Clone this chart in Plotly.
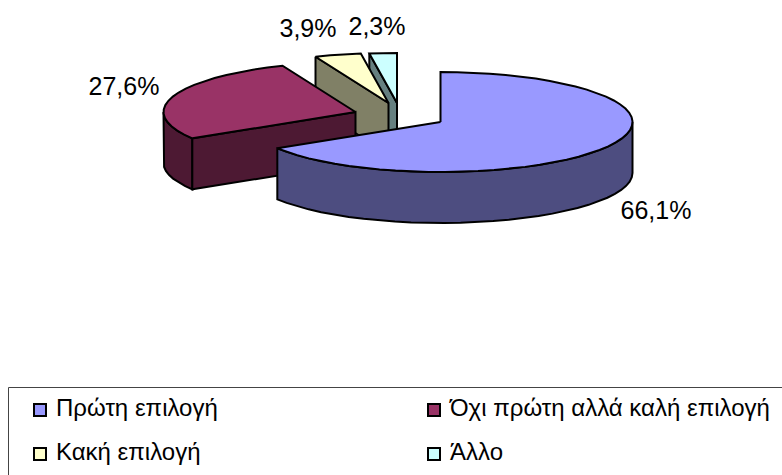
import numpy as np
import plotly.graph_objects as go

categories = ["Πρώτη επιλογή", "Όχι πρώτη αλλά καλή επιλογή", "Κακή επιλογή", "Άλλο"]
values = [66.1, 27.6, 3.9, 2.3]
value_labels = ["66,1%", "27,6%", "3,9%", "2,3%"]

top_colors = ["#9999FF", "#993366", "#FFFFCC", "#CCFFFF"]
wall_colors = ["#4D4D80", "#4D1933", "#808066", "#668080"]
apexes = [(440.5, 122), (355.5, 112), (388.5, 103), (397, 103)]
label_xy = [(656, 213), (124, 89), (308, 31), (377, 29)]
legend_xy = [(40, 410), (434, 410), (40, 454), (434, 454)]

RX, RY, DEPTH = 192, 50, 51
W, H = 782, 475
FONT = "Liberation Sans, Arial, sans-serif"
total = sum(values)
ends = np.cumsum(values) / total * 360
starts = np.concatenate([[0], ends[:-1]])


def rim(apex, a, b):
    t = np.radians(np.linspace(a, b, max(2, int(abs(b - a) / 5) + 2)))
    return apex[0] + RX * np.sin(t), apex[1] - RY * np.cos(t)


def poly(x, y, color):
    return go.Scatter(
        x=list(x), y=list(y), mode="lines", fill="toself", fillcolor=color,
        line=dict(color="black", width=2), hoverinfo="skip", showlegend=False,
    )


fig = go.Figure()
for i in [3, 2, 1, 0]:
    apex, a, b = apexes[i], starts[i], ends[i]
    # outer wall: the part of the rim on the front half (90..270 degrees)
    wa, wb = max(a, 90), min(b, 270)
    if wb > wa:
        rx, ry = rim(apex, wa, wb)
        fig.add_trace(poly(np.r_[rx, rx[::-1], rx[0]],
                           np.r_[ry, ry[::-1] + DEPTH, ry[0]], wall_colors[i]))
    # cut face along the slice's leading edge
    if a > 0:
        ex, ey = rim(apex, a, a)
        fig.add_trace(poly([ex[0], apex[0], apex[0], ex[0], ex[0]],
                           [ey[0], apex[1], apex[1] + DEPTH, ey[0] + DEPTH, ey[0]],
                           wall_colors[i]))
    # top face
    rx, ry = rim(apex, a, b)
    fig.add_trace(poly(np.r_[apex[0], rx, apex[0]], np.r_[apex[1], ry, apex[1]], top_colors[i]))

# value labels
fig.add_trace(go.Scatter(
    x=[p[0] for p in label_xy], y=[p[1] for p in label_xy], text=value_labels,
    mode="text", textposition="middle center",
    textfont=dict(family=FONT, size=25, color="black"),
    hoverinfo="skip", showlegend=False,
))

# legend swatches and names
fig.add_trace(go.Scatter(
    x=[p[0] for p in legend_xy], y=[p[1] for p in legend_xy],
    mode="markers",
    marker=dict(symbol="square", size=12, color=top_colors, line=dict(color="black", width=2)),
    hoverinfo="skip", showlegend=False,
))
fig.add_trace(go.Scatter(
    x=[p[0] + 16 for p in legend_xy], y=[p[1] for p in legend_xy], text=categories,
    mode="text", textposition="middle right",
    textfont=dict(family=FONT, size=24, color="black"),
    hoverinfo="skip", showlegend=False,
))

fig.add_shape(type="rect", x0=8.5, y0=387.5, x1=W + 20, y1=H + 20,
              line=dict(color="#444444", width=1), fillcolor="rgba(0,0,0,0)", layer="below")

fig.update_layout(
    width=W, height=H, margin=dict(l=0, r=0, t=0, b=0),
    paper_bgcolor="white", plot_bgcolor="white", showlegend=False,
    xaxis=dict(range=[0, W], visible=False, fixedrange=True),
    yaxis=dict(range=[H, 0], visible=False, fixedrange=True),
)
fig.write_html("out.html", config={"displayModeBar": False},
               post_script="document.body.style.margin='0';document.body.style.overflow='hidden';")
